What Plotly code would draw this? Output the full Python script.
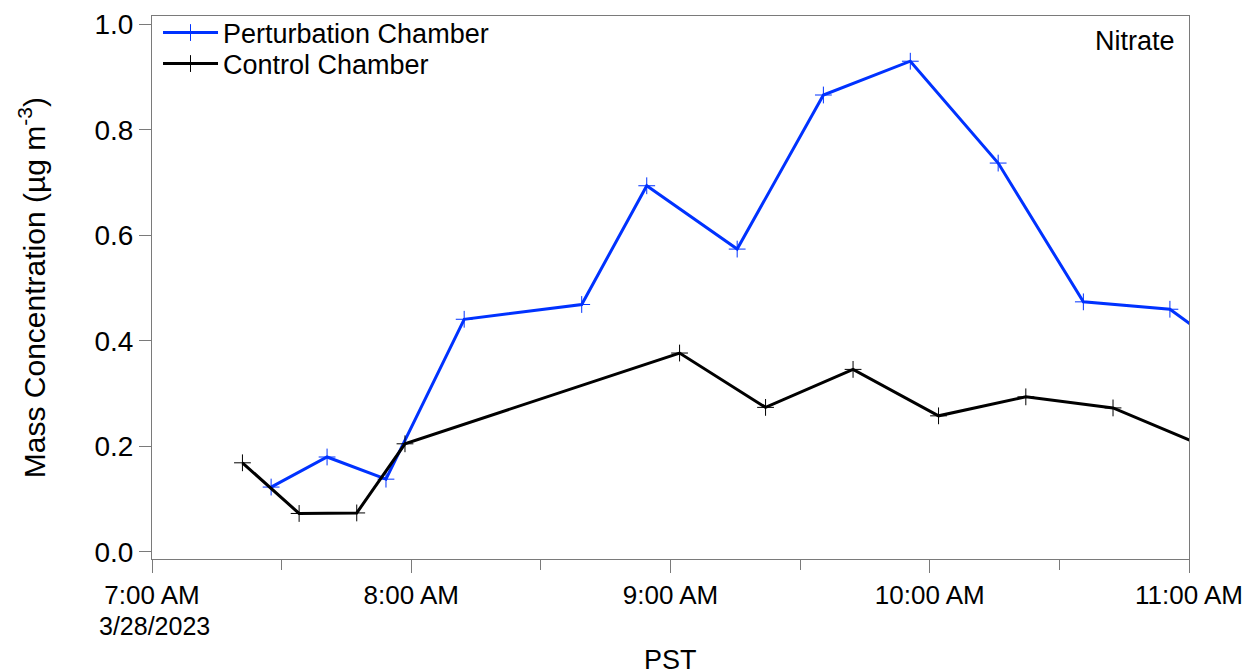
import plotly.graph_objects as go

# Nitrate mass concentration, 28 March 2023 (PST)
pert_time = [
    "2023-03-28 07:27:34", "2023-03-28 07:40:31", "2023-03-28 07:54:09",
    "2023-03-28 08:12:15", "2023-03-28 08:39:27", "2023-03-28 08:54:30",
    "2023-03-28 09:15:26", "2023-03-28 09:35:23", "2023-03-28 09:55:30",
    "2023-03-28 10:15:50", "2023-03-28 10:35:33", "2023-03-28 10:55:35",
    "2023-03-28 11:15:35",
]
pert_conc = [0.123, 0.180, 0.138, 0.441, 0.469, 0.694, 0.574, 0.866, 0.930,
             0.737, 0.474, 0.460, 0.340]

ctrl_time = [
    "2023-03-28 07:20:56", "2023-03-28 07:34:03", "2023-03-28 07:47:23",
    "2023-03-28 07:58:33", "2023-03-28 09:02:06", "2023-03-28 09:22:00",
    "2023-03-28 09:42:15", "2023-03-28 10:02:02", "2023-03-28 10:22:14",
    "2023-03-28 10:42:25", "2023-03-28 11:02:30",
]
ctrl_conc = [0.169, 0.073, 0.074, 0.205, 0.377, 0.274, 0.346, 0.258, 0.294,
             0.273, 0.204]

x_tickvals = ["2023-03-28 07:00", "2023-03-28 08:00", "2023-03-28 09:00",
              "2023-03-28 10:00", "2023-03-28 11:00"]
x_ticktext = ["7:00 AM", "8:00 AM", "9:00 AM", "10:00 AM", "11:00 AM"]
date_label = "3/28/2023"
y_tickvals = [0.0, 0.2, 0.4, 0.6, 0.8, 1.0]

BLUE = "rgb(0,50,255)"
BLACK = "#000000"
FRAME = "#7a7a7a"
FONT = "Liberation Sans, Arial, sans-serif"
FS = 27

fig = go.Figure()

fig.add_trace(go.Scatter(
    x=pert_time, y=pert_conc, mode="lines+markers", name="Perturbation Chamber",
    line=dict(color=BLUE, width=3),
    marker=dict(symbol="cross-thin", size=12, line=dict(color=BLUE, width=1)),
    legend="legend",
))
fig.add_trace(go.Scatter(
    x=ctrl_time, y=ctrl_conc, mode="lines+markers", name="Control Chamber",
    line=dict(color=BLACK, width=3),
    marker=dict(symbol="cross-thin", size=12, line=dict(color=BLACK, width=1)),
    legend="legend2",
))

legend_style = dict(
    xanchor="left", yanchor="middle",
    bgcolor="rgba(0,0,0,0)", borderwidth=0,
    font=dict(size=FS), itemwidth=55,
)

fig.update_layout(
    width=1248, height=670,
    margin=dict(l=152, r=59, t=16, b=111, autoexpand=False),
    paper_bgcolor="white", plot_bgcolor="white",
    font=dict(family=FONT, size=FS, color="#000000"),
    showlegend=True,
    legend=dict(x=0.0058, y=0.9687, **legend_style),
    legend2=dict(x=0.0058, y=0.9116, **legend_style),
    xaxis=dict(
        type="date",
        range=["2023-03-28 07:00", "2023-03-28 11:00"],
        tickmode="array", tickvals=x_tickvals, ticktext=x_ticktext,
        ticks="outside", ticklen=13, tickwidth=1, tickcolor=FRAME,
        minor=dict(dtick=30 * 60 * 1000, ticks="outside", ticklen=10,
                   tickwidth=1, tickcolor=FRAME, showgrid=False),
        showline=True, linecolor=FRAME, linewidth=1, mirror=True,
        showgrid=False, zeroline=False, automargin=False,
        tickfont=dict(size=26),
    ),
    yaxis=dict(
        range=[-0.0133, 1.0157],
        tickmode="array", tickvals=y_tickvals, tickformat=".1f",
        ticks="outside", ticklen=12, tickwidth=1, tickcolor=FRAME,
        showline=True, linecolor=FRAME, linewidth=1, mirror=True,
        showgrid=False, zeroline=False, automargin=False,
        tickfont=dict(size=28),
    ),
    annotations=[
        dict(text=date_label, xref="x", yref="paper", x=x_tickvals[0],
             y=-0.1225, xanchor="center", yanchor="middle", xshift=2,
             showarrow=False, font=dict(size=25)),
        dict(text="Nitrate", xref="paper", yref="paper", x=0.9884, y=0.9853,
             xanchor="right", yanchor="top", showarrow=False,
             font=dict(size=FS)),
        dict(text="PST", xref="paper", yref="paper", x=0.5, y=-0.1547,
             xanchor="center", yanchor="top", showarrow=False,
             font=dict(size=FS)),
        dict(text="Mass Concentration (µg m<sup>-3</sup>)", xref="paper",
             yref="paper", x=-0.116, y=0.5, xanchor="center", yanchor="middle",
             textangle=-90, showarrow=False, font=dict(size=30)),
    ],
)

fig.write_html("out.html")
